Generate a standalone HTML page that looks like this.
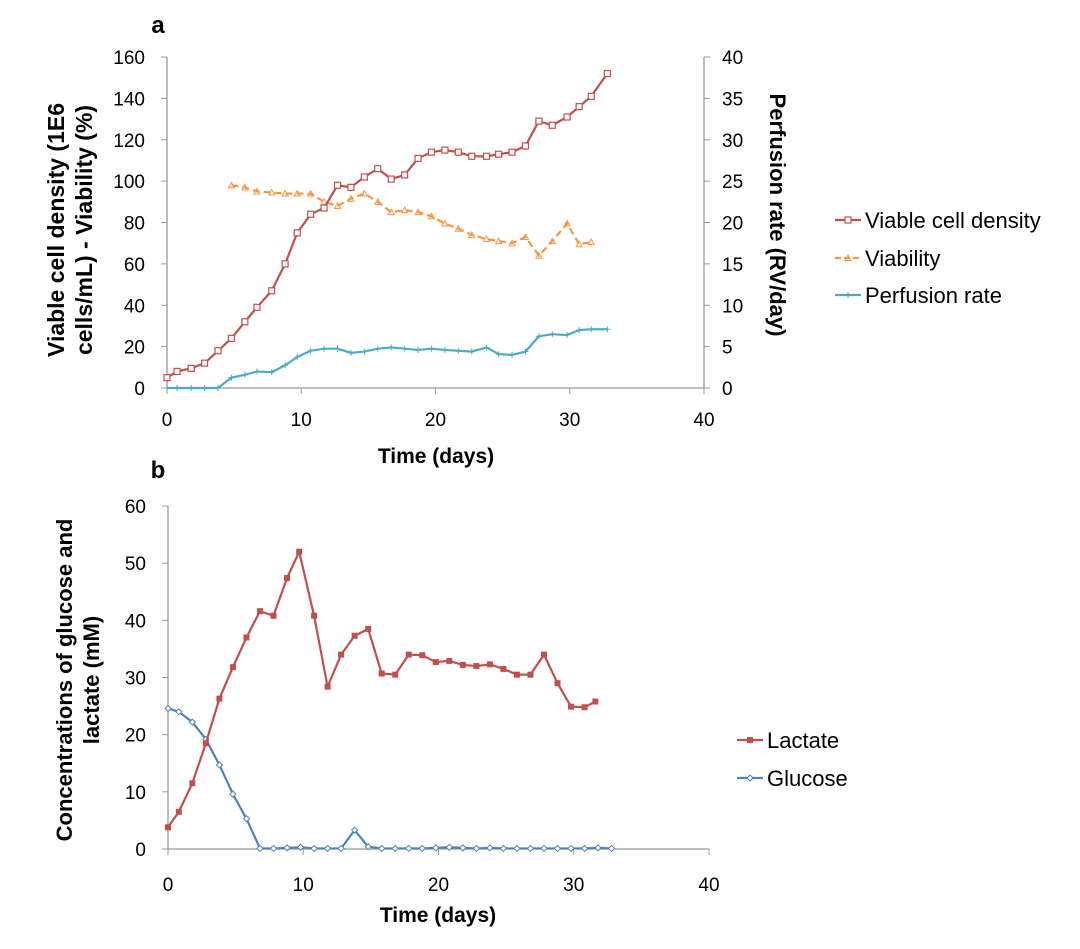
<!DOCTYPE html>
<html><head><meta charset="utf-8"><style>
body{margin:0;background:#fff;}
svg text{font-family:"Liberation Sans",sans-serif;fill:#000;}
</style></head><body>
<svg id="c" width="1080" height="944"></svg>
<script>
const daysA=[0,0.75,1.8,2.8,3.8,4.8,5.8,6.7,7.8,8.8,9.7,10.7,11.7,12.7,13.7,14.7,15.7,16.7,17.7,18.7,19.7,20.7,21.7,22.7,23.8,24.7,25.7,26.7,27.7,28.7,29.8,30.7,31.6,32.8];
const vcd=[5,8,9.5,12,18,24,32,39,47,60,75,84,87,98,97,102,106,101,103,111,114,115,114,112,112,113,114,117,129,127,131,136,141,152];
const viabDays=[4.8,5.8,6.7,7.8,8.8,9.7,10.7,11.7,12.7,13.7,14.7,15.7,16.7,17.7,18.7,19.7,20.7,21.7,22.7,23.8,24.7,25.7,26.7,27.7,28.7,29.8,30.7,31.6];
const viability=[98,97,95,94.5,94,94,94,90,88,91.5,94,90,85,86,85,83,79.5,77,74,72,71,70,73,64,71,79.5,69.5,70.5];
const perfusion=[0,0,0,0,0,1.25,1.6,2,1.9,2.75,3.75,4.5,4.75,4.75,4.25,4.4,4.75,4.9,4.75,4.6,4.75,4.6,4.5,4.4,4.9,4.1,4,4.4,6.25,6.5,6.4,7,7.1,7.1];
const daysL=[0,0.8,1.8,2.8,3.8,4.8,5.8,6.8,7.8,8.8,9.7,10.8,11.8,12.8,13.8,14.8,15.8,16.8,17.8,18.8,19.8,20.8,21.8,22.8,23.8,24.8,25.8,26.8,27.8,28.8,29.8,30.8,31.6];
const lactate=[3.8,6.5,11.5,18.5,26.3,31.8,37,41.6,40.8,47.4,52,40.8,28.4,34,37.3,38.5,30.7,30.5,34,33.9,32.7,32.9,32.2,32,32.3,31.5,30.5,30.5,34,29,24.9,24.8,25.8];
const daysG=[0,0.8,1.8,2.8,3.8,4.8,5.8,6.8,7.8,8.8,9.8,10.8,11.8,12.8,13.8,14.8,15.8,16.8,17.8,18.8,19.8,20.8,21.8,22.8,23.8,24.8,25.8,26.8,27.8,28.8,29.8,30.8,31.8,32.8];
const glucose=[24.6,24,22.2,19.2,14.7,9.6,5.3,0.1,0.1,0.2,0.3,0.1,0.1,0.1,3.3,0.4,0.1,0.1,0.1,0.1,0.2,0.3,0.2,0.1,0.2,0.1,0.1,0.1,0.1,0.1,0.1,0.1,0.2,0.1];
const xTicks=[0,10,20,30,40];
const yTicksA=[0,20,40,60,80,100,120,140,160];
const yTicksR=[0,5,10,15,20,25,30,35,40];
const yTicksB=[0,10,20,30,40,50,60];

const svg=document.getElementById('c');
const NS='http://www.w3.org/2000/svg';
function mk(tag,attrs,parent){const e=document.createElementNS(NS,tag);for(const k in attrs)e.setAttribute(k,attrs[k]);(parent||svg).appendChild(e);return e;}
function txt(s,x,y,size,anchor,bold,parent,rot){const t=mk('text',{x:x,y:y,'font-size':size,'text-anchor':anchor||'middle'},parent);if(bold)t.setAttribute('font-weight','bold');if(rot)t.setAttribute('transform','rotate('+rot+' '+x+' '+y+')');t.textContent=s;return t;}

function marker(g,x,y,color,type){let m=null;
  if(type==='sq')m=mk('rect',{x:x-3,y:y-3,width:6,height:6,fill:'#fff',stroke:color,'stroke-width':1.2},g);
  else if(type==='fsq')m=mk('rect',{x:x-3,y:y-3,width:6,height:6,fill:color},g);
  else if(type==='tri')m=mk('polygon',{points:(x)+','+(y-3)+' '+(x-3)+','+(y+2.5)+' '+(x+3)+','+(y+2.5),fill:'none',stroke:color,'stroke-width':1},g);
  else if(type==='dia')m=mk('polygon',{points:x+','+(y-3)+' '+(x+3)+','+y+' '+x+','+(y+3)+' '+(x-3)+','+y,fill:'#fff',stroke:color,'stroke-width':1},g);
  else if(type==='plus')m=mk('path',{d:'M'+(x-3)+' '+y+'H'+(x+3)+'M'+x+' '+(y-3)+'V'+(y+3),stroke:color,'stroke-width':1},g);
  if(m){
    
    
  }
}
function series(g,xs,ys,sx,sy,color,dash,mtype){
  const p=mk('polyline',{points:xs.map((d,i)=>sx(d)+','+sy(ys[i])).join(' '),fill:'none',stroke:color,'stroke-width':2.2},g);
  if(dash)p.setAttribute('stroke-dasharray',dash);
  xs.forEach((d,i)=>marker(g,sx(d),sy(ys[i]),color,mtype));
  return p;
}
function axes(g,x0,x1,y0,y1,sx,sy,yt,xt,xoff){
  mk('line',{x1:x0,y1:y0,x2:x0,y2:y1,stroke:'#999','stroke-width':1.3},g);
  mk('line',{x1:x0,y1:y0,x2:x1,y2:y0,stroke:'#999','stroke-width':1.3},g);
  yt.forEach(v=>{mk('line',{x1:x0-6,x2:x0,y1:sy(v),y2:sy(v),stroke:'#999'},g);txt(v,x0-22,sy(v)+7,19,'end',false,g);});
  xt.forEach(v=>{mk('line',{x1:sx(v),x2:sx(v),y1:y0,y2:y0+6,stroke:'#999'},g);txt(v,sx(v),y0+xoff,19,'middle',false,g);});
}
function legend(parent,x,y,label,color,dash,mtype){
  const lg=mk('g',{},parent);
  
  
  const l=mk('line',{x1:x,x2:x+26,y1:y,y2:y,stroke:color,'stroke-width':2.2},lg);
  if(dash)l.setAttribute('stroke-dasharray',dash);
  marker(lg,x+13,y,color,mtype);
  txt(label,x+30,y+8,22,'start',false,lg);
}

// Chart A
const gA=mk('g',{});
const axL=167,axR=704,ayB=388,ayT=57;
const sxA=d=>axL+(d/40)*(axR-axL), syA=v=>ayB-(v/160)*(ayB-ayT), syR=v=>ayB-(v/40)*(ayB-ayT);
axes(gA,axL,axR,ayB,ayT,sxA,syA,yTicksA,xTicks,38);
mk('line',{x1:axR,y1:ayB,x2:axR,y2:ayT,stroke:'#999','stroke-width':1.3},gA);
yTicksR.forEach(v=>{mk('line',{x1:axR,x2:axR+6,y1:syR(v),y2:syR(v),stroke:'#999'},gA);txt(v,axR+18,syR(v)+7,19,'start',false,gA);});
series(gA,daysA,perfusion,sxA,syR,'#4bacc6',null,'plus');
series(gA,viabDays,viability,sxA,syA,'#f79646','7,4','tri');
series(gA,daysA,vcd,sxA,syA,'#c0504d',null,'sq');
txt('a',158,33,24,'middle',true,gA);
txt('Time (days)',436,463,21,'middle',true,gA);
txt('Viable cell density (1E6',64,230,23,'middle',true,gA,-90);
txt('cells/mL) - Viability (%)',92,230,23,'middle',true,gA,-90);
txt('Perfusion rate (RV/day)',770,215,22,'middle',true,gA,90);
legend(gA,835,220,'Viable cell density','#c0504d',null,'sq');
legend(gA,835,258,'Viability','#f79646','6,3','tri');
legend(gA,835,295,'Perfusion rate','#4bacc6',null,'plus');

// Chart B
const gB=mk('g',{});
const bxL=168,bxR=709,byB=849,byT=506;
const sxB=d=>bxL+(d/40)*(bxR-bxL), syB=v=>byB-(v/60)*(byB-byT);
axes(gB,bxL,bxR,byB,byT,sxB,syB,yTicksB,xTicks,42);
series(gB,daysG,glucose,sxB,syB,'#4f81bd',null,'dia');
series(gB,daysL,lactate,sxB,syB,'#c0504d',null,'fsq');
txt('b',158,478,24,'middle',true,gB);
txt('Time (days)',438,922,21,'middle',true,gB);
txt('Concentrations of glucose and',72,680,22,'middle',true,gB,-90);
txt('lactate (mM)',99,680,22,'middle',true,gB,-90);
legend(gB,737,740,'Lactate','#c0504d',null,'fsq');
legend(gB,737,778,'Glucose','#4f81bd',null,'dia');
</script>
</body></html>
